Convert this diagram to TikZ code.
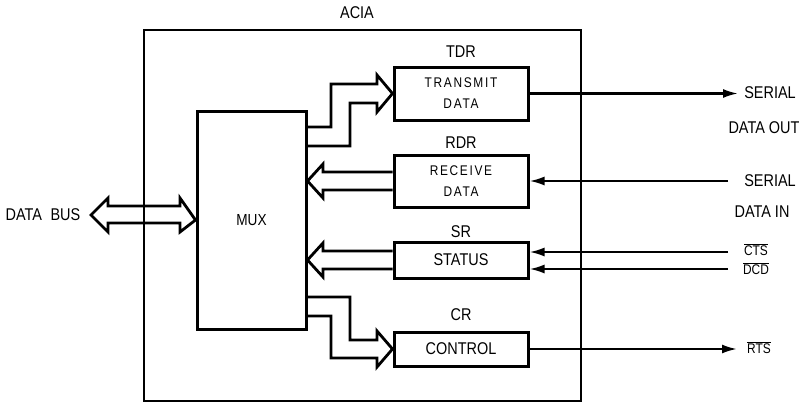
\documentclass[tikz,border=0pt]{standalone}
\usepackage{fontspec}
\setmainfont{Liberation Sans}[FakeStretch=0.85]
\newfontfamily\widefont{Liberation Sans}[FakeStretch=0.85,LetterSpace=12]
\usetikzlibrary{positioning,arrows.meta,calc}

\tikzset{
  reg/.style={draw, line width=3pt, inner sep=0pt, align=center,
    font=\widefont\fontsize{14}{21}\selectfont},
  aciabox/.style={draw, line width=1.6pt},
  bus/.style={draw, line width=2.8pt, line join=miter},
  sig/.style={line width=2.2pt},
  sigtip/.style={sig, -{Latex[length=15pt,width=9pt]}},
  lbl/.style={inner sep=0pt, font=\fontsize{17}{20}\selectfont},
  pinlbl/.style={inner sep=0pt, font=\fontsize{14}{16}\selectfont},
}

\begin{document}
\begin{tikzpicture}[x=1pt,y=-1pt]
  \useasboundingbox (0,0) rectangle (803,407);
  % outer block
  \node[aciabox, minimum width=437pt, minimum height=371pt] (acia) at (362.5,215.5) {};
  \node[lbl] (aciatxt) at (357,13) {ACIA};
  % registers
  \node[reg, minimum width=109pt, minimum height=218pt,
    font=\fontsize{16}{18}\selectfont] (mux) at (251.5,220) {MUX};
  \node[reg, minimum width=134pt, minimum height=53pt] (tdr) at (461,93.5) {TRANSMIT\\DATA};
  \node[reg, minimum width=134pt, minimum height=52pt] (rdr) at (461,181) {RECEIVE\\DATA};
  \node[reg, minimum width=134pt, minimum height=36pt,
    font=\fontsize{17}{18}\selectfont] (sr) at (461,260) {STATUS};
  \node[reg, minimum width=134pt, minimum height=34pt,
    font=\fontsize{17}{18}\selectfont] (cr) at (461,349) {CONTROL};
  \node[lbl, above=8pt of tdr] (tdrtxt) {TDR};
  \node[lbl, above=5pt of rdr] (rdrtxt) {RDR};
  \node[lbl, above=3pt of sr] (srtxt) {SR};
  \node[lbl, above=10pt of cr] (crtxt) {CR};
  % data bus
  \node[lbl] (bustxt) at (43,215) {DATA\enspace BUS};
  \draw[bus] (108,206) -- (180,206) -- (180,198) -- (mux.west) -- (180,232)
    -- (180,223) -- (108,223) -- (108,232) -- (91,215) -- (108,198) -- cycle;
  % internal buses
  \draw[bus] (306,127) -- (331,127) -- (331,84) -- (377,84) -- (377,75) -- (tdr.west)
    -- (377,112) -- (377,103) -- (350,103) -- (350,146) -- (306,146);
  \draw[bus] (rdr.west |- 0,172) -- (323,172) -- (323,164) -- (mux.east |- rdr.west)
    -- (323,198) -- (323,190) -- (rdr.west |- 0,190);
  \draw[bus] (sr.west |- 0,251) -- (323,251) -- (323,243) -- (mux.east |- sr.west)
    -- (323,277) -- (323,269) -- (sr.west |- 0,269);
  \draw[bus] (306,297) -- (350,297) -- (350,340) -- (377,340) -- (377,331) -- (cr.west)
    -- (377,367) -- (377,358) -- (331,358) -- (331,316) -- (306,316);
  % serial side
  \node[lbl] (serout) at (770,93) {SERIAL};
  \node[lbl] (dataout) at (764,128) {DATA OUT};
  \node[lbl] (serin) at (770,181) {SERIAL};
  \node[lbl] (datain) at (762,212) {DATA IN};
  \node[pinlbl] (cts) at (756,250) {$\overline{\mbox{CTS}}$};
  \node[pinlbl] (dcd) at (756,269) {$\overline{\mbox{DCD}}$};
  \node[pinlbl] (rts) at (759,348) {$\overline{\mbox{RTS}}$};
  \coordinate (outend) at (738,93.5);
  \coordinate (inend) at (728,181);
  \coordinate (ctsend) at (728,252);
  \coordinate (dcdend) at (728,269);
  \coordinate (rtsend) at (737,349);
  \draw[sigtip] (tdr.east) -- (outend);
  \draw[sigtip] (inend) -- (rdr.east);
  \draw[sigtip] (ctsend) -- (sr.east |- ctsend);
  \draw[sigtip] (dcdend) -- (sr.east |- dcdend);
  \draw[sigtip] (cr.east) -- (rtsend);
\end{tikzpicture}
\end{document}
